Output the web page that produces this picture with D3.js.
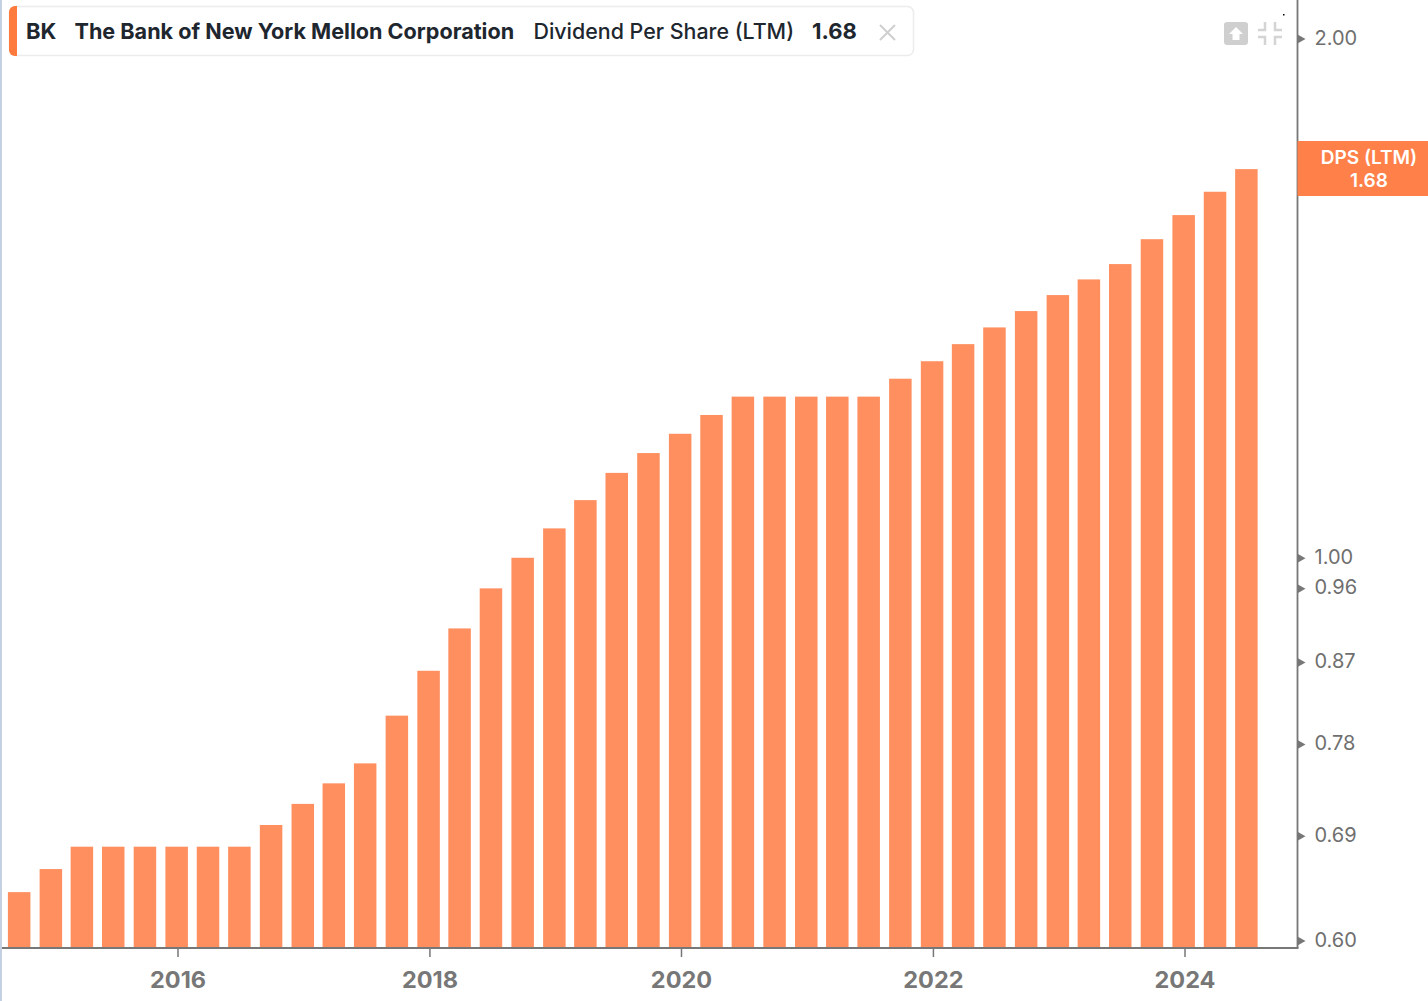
<!DOCTYPE html>
<html>
<head>
<meta charset="utf-8">
<script src="https://cdn.jsdelivr.net/npm/d3@7"></script>
<style>
  html, body { margin: 0; padding: 0; background: #fff; overflow: hidden; }
  text { font-family: Inter, "Noto Sans", sans-serif; }
</style>
</head>
<body>
<script>
// quarter ends
const quarters = [
  "2014-09-30", "2014-12-31", "2015-03-31", "2015-06-30", "2015-09-30", "2015-12-31",
  "2016-03-31", "2016-06-30", "2016-09-30", "2016-12-31", "2017-03-31", "2017-06-30",
  "2017-09-30", "2017-12-31", "2018-03-31", "2018-06-30", "2018-09-30", "2018-12-31",
  "2019-03-31", "2019-06-30", "2019-09-30", "2019-12-31", "2020-03-31", "2020-06-30",
  "2020-09-30", "2020-12-31", "2021-03-31", "2021-06-30", "2021-09-30", "2021-12-31",
  "2022-03-31", "2022-06-30", "2022-09-30", "2022-12-31", "2023-03-31", "2023-06-30",
  "2023-09-30", "2023-12-31", "2024-03-31", "2024-06-30"
];
const dps = [
  0.64, 0.66, 0.68, 0.68, 0.68, 0.68,
  0.68, 0.68, 0.70, 0.72, 0.74, 0.76,
  0.81, 0.86, 0.91, 0.96, 1.00, 1.04,
  1.08, 1.12, 1.15, 1.18, 1.21, 1.24,
  1.24, 1.24, 1.24, 1.24, 1.27, 1.30,
  1.33, 1.36, 1.39, 1.42, 1.45, 1.48,
  1.53, 1.58, 1.63, 1.68
];
const yTicks = [0.60, 0.69, 0.78, 0.87, 0.96, 1.00, 2.00];
const xTicks = [2016, 2018, 2020, 2022, 2024];

const w = 1428;
const h = 1001;
const axisX = 1297.5;
const axisY = 948;
const barW = 22.5;
const orange = "#ff8f5f";
const parse = d3.utcParse("%Y-%m-%d");

const svg = d3.select("body").append("svg")
  .attr("width", w)
  .attr("height", h)
  .style("display", "block");

// pale edge on the left of the window
svg.append("rect").attr("x", 0).attr("y", 0).attr("width", 2).attr("height", h).attr("fill", "#c5d0e2");

const x = d3.scaleUtc()
  .domain([new Date(Date.UTC(2016, 0, 1)), new Date(Date.UTC(2024, 0, 1))])
  .range([177.5, 1184.5]);

const y = d3.scaleLog()
  .domain([0.594, 2])
  .range([axisY, 38.5]);

svg.selectAll(".bar")
  .data(quarters)
  .enter()
  .append("rect")
  .attr("class", "bar")
  .attr("x", (d) => x(parse(d)) - barW / 2 - 0.5)
  .attr("y", (d, i) => y(dps[i]))
  .attr("width", barW)
  .attr("height", (d, i) => axisY - y(dps[i]))
  .attr("fill", orange);

// x axis
const xAxis = d3.axisBottom(x)
  .tickValues(xTicks.map((d) => new Date(Date.UTC(d, 0, 1))))
  .tickFormat(d3.utcFormat("%Y"))
  .tickSize(9)
  .tickSizeOuter(0);

const gx = svg.append("g")
  .attr("transform", "translate(0," + axisY + ")")
  .call(xAxis);
gx.select(".domain").remove();
gx.selectAll("line").attr("stroke", "#777").attr("stroke-width", 1.5);
gx.selectAll("text")
  .attr("y", 23)
  .attr("dy", "0.71em")
  .style("font-family", "Inter")
  .style("font-size", "23.5px")
  .style("font-weight", 700)
  .attr("fill", "#777");

svg.append("line")
  .attr("x1", 2).attr("x2", axisX + 1)
  .attr("y1", axisY).attr("y2", axisY)
  .attr("stroke", "#777").attr("stroke-width", 1.8);

// y axis, ticks are little triangles
const yAxis = d3.axisRight(y)
  .tickValues(yTicks)
  .tickFormat(d3.format(".2f"))
  .tickSize(0);

const gy = svg.append("g")
  .attr("transform", "translate(" + axisX + ",0)")
  .call(yAxis);
gy.select(".domain").remove();
gy.selectAll(".tick").append("path")
  .attr("d", "M0,-4.5L8,0L0,4.5Z")
  .attr("fill", "#777");
gy.selectAll("text")
  .attr("x", 17)
  .attr("dy", "0.28em")
  .style("font-family", "Inter")
  .style("font-size", "20px")
  .attr("fill", "#6f6f6f");

svg.append("line")
  .attr("x1", axisX).attr("x2", axisX)
  .attr("y1", 0).attr("y2", axisY)
  .attr("stroke", "#777").attr("stroke-width", 1.8);

// last value flag
svg.append("rect")
  .attr("x", axisX).attr("y", 141)
  .attr("width", w - axisX).attr("height", 55)
  .attr("fill", "#ff8049");
const flag = svg.append("text")
  .attr("text-anchor", "middle")
  .attr("fill", "#fff").style("font-size", "19px").style("font-weight", 600);
flag.append("tspan").attr("x", 1369).attr("y", 164).text("DPS (LTM)");
flag.append("tspan").attr("x", 1369).attr("y", 187).text(d3.format(".2f")(dps[dps.length - 1]));

// legend card
svg.append("rect")
  .attr("x", 9.5).attr("y", 6.5)
  .attr("width", 904).attr("height", 49).attr("rx", 6)
  .attr("fill", "#fff").attr("stroke", "#ececec").attr("stroke-width", 1.5);
svg.append("path")
  .attr("d", "M17,6H15A6,6 0 0 0 9,12V50A6,6 0 0 0 15,56H17Z")
  .attr("fill", "#ff7a3d");

const legendItems = [
  { label: "BK", x: 26, weight: 700, size: 22 },
  { label: "The Bank of New York Mellon Corporation", x: 74.5, weight: 700, size: 21.6 },
  { label: "Dividend Per Share (LTM)", x: 533.5, weight: 500, size: 21.4 },
  { label: "1.68", x: 812, weight: 700, size: 22 }
];
svg.selectAll(".legend-label")
  .data(legendItems)
  .enter()
  .append("text")
  .attr("class", "legend-label")
  .attr("x", (d) => d.x)
  .attr("y", 39)
  .attr("fill", "#20262e")
  .style("font-size", (d) => d.size + "px")
  .style("font-weight", (d) => d.weight)
  .text((d) => d.label);

// close cross
svg.append("path")
  .attr("d", "M880,25L895,40M895,25L880,40")
  .attr("stroke", "#cfcfcf").attr("stroke-width", 2).attr("fill", "none");

// toolbar icons
svg.append("rect")
  .attr("x", 1224).attr("y", 22).attr("width", 24).attr("height", 23).attr("rx", 3)
  .attr("fill", "#cfcfcf");
svg.append("path")
  .attr("d", "M1236,27L1243,34H1239.5V40H1232.5V34H1229Z")
  .attr("fill", "#fff");
svg.append("path")
  .attr("d", "M1265,22V30H1258M1275,22V30H1282M1265,45V37H1258M1275,45V37H1282")
  .attr("stroke", "#d4d4d4").attr("stroke-width", 2.5).attr("fill", "none");

svg.append("rect")
  .attr("x", 1283).attr("y", 14).attr("width", 1.5).attr("height", 1.5).attr("fill", "#000");
</script>
</body>
</html>
